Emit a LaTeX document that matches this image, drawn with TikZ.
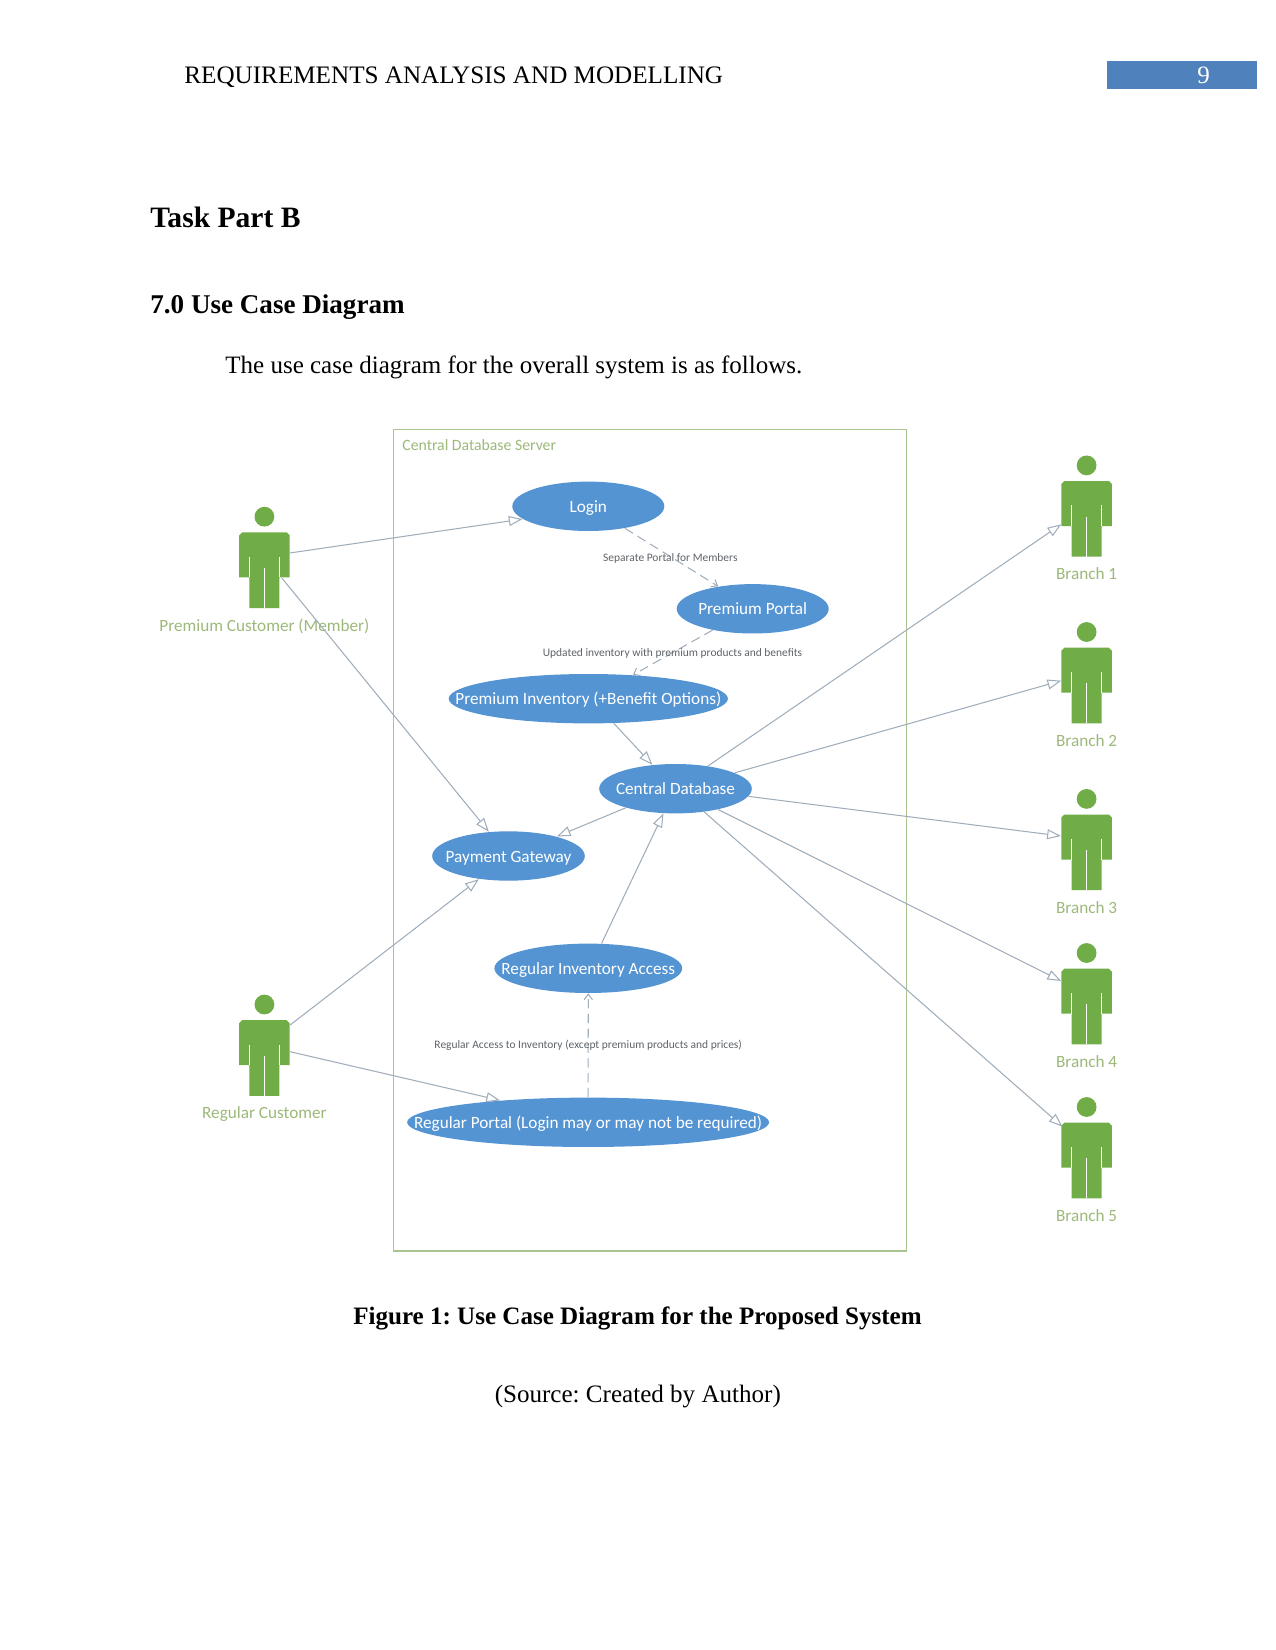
\documentclass[tikz,border=0pt]{standalone}
\usepackage{fontspec}
\setmainfont{Liberation Serif}
\newfontfamily\ucfont{Carlito}
\usetikzlibrary{arrows.meta,shapes.geometric}
\frenchspacing
\definecolor{ucblue}{HTML}{5494D3}
\definecolor{actorgreen}{HTML}{70AD47}
\definecolor{labelgreen}{HTML}{9DB97A}
\definecolor{framegreen}{HTML}{A9C48E}
\definecolor{linkgrey}{HTML}{A0ADBA}
\definecolor{notegrey}{HTML}{5F6368}
\definecolor{barblue}{HTML}{4F81BD}
\tikzset{
  x=0.48pt,y=-0.48pt,
  usecase/.style={ellipse,fill=ucblue,inner sep=0pt,minimum height=23.7pt,text=white,font=\ucfont\fontsize{8.25}{9}\selectfont},
  actorframe/.style={rectangle,inner sep=0pt,minimum width=24.3pt,minimum height=36.3pt},
  actorname/.style={text=labelgreen,font=\ucfont\fontsize{8.25}{9}\selectfont,inner sep=0pt,anchor=base},
  note/.style={text=notegrey,font=\ucfont\fontsize{5.5}{6}\selectfont,inner sep=0pt},
  assoc/.style={draw=linkgrey,line width=0.5pt,-{Triangle[open,fill=white,length=6.6pt,width=4.8pt]}},
  depend/.style={draw=linkgrey,line width=0.5pt,dash pattern=on 4.5pt off 2.6pt,-{Straight Barb[length=2.6pt,width=4pt]}},
  pagetext/.style={inner sep=0pt,anchor=base west,font=\fontsize{12}{14}\selectfont},
}
% use case: name, centre x, centre y, half width, text
\newcommand{\usecasenode}[5]{%
  \node[usecase,minimum width={#4*0.96pt}] (#1) at (#2,#3) {\makebox[0pt]{\raisebox{-2.9pt}[0pt][0pt]{#5}}};}
% stick figure with its name below: name, centre x, top of head, text
\newcommand{\actorfigure}[4]{%
  \node[actorframe] (#1) at (#2,#3+63.2) {};
  \begin{scope}[shift={(#1.center)}]
    \fill[actorgreen] (0,-53.5) circle[radius=9.9];
    \fill[actorgreen] (-22.3,-37.8) -- (22.3,-37.8) -- (25.3,-34.8) -- (25.3,7.2)
      -- (15,7.2) -- (15,37.8) -- (-15,37.8) -- (-15,7.2) -- (-25.3,7.2) -- (-25.3,-34.8) -- cycle;
    \draw[white,line width=0.45pt] (0,-2.3) -- (0,37.8) (-15,-13.5) -- (-15,7.2) (15,-13.5) -- (15,7.2);
  \end{scope}
  \node[actorname] (#1-name) at (#2,#3+124.1) {#4};}
\begin{document}
\begin{tikzpicture}
\useasboundingbox (0,0) rectangle (1275,1650);
\fill[white] (0,0) rectangle (1275,1650);

% running head
\node[pagetext,font=\fontsize{12.07}{14}\selectfont] (head) at (184,84) {REQUIREMENTS ANALYSIS AND MODELLING};
\node[fill=barblue,minimum width=72pt,minimum height=13.3pt,inner sep=0pt] (bar) at (1182,74.8) {};
\node[text=white,inner sep=0pt,font=\fontsize{12}{14}\selectfont] (pageno) at (1203.5,75.5) {9};

% headings and lead-in sentence
\node[pagetext,font=\bfseries\fontsize{14.2}{16}\selectfont] (task) at (150,228) {Task Part B};
\node[pagetext,font=\bfseries\fontsize{13}{15}\selectfont] (section) at (150,314) {7.0 Use Case Diagram};
\node[pagetext] (intro) at (225,373.5) {The use case diagram for the overall system is as follows.};

% system boundary
\draw[framegreen,line width=0.75pt] (393.3,429.3) rectangle (906.5,1251);
\node[text=labelgreen,font=\ucfont\fontsize{7.56}{9}\selectfont,anchor=west,inner sep=0pt] (server) at (402,445) {Central Database Server};

% use cases
\usecasenode{login}{588.3}{506.3}{76}{Login}
\usecasenode{portal}{752.7}{608.8}{76}{Premium Portal}
\usecasenode{inventory}{588.3}{698.7}{139.6}{Premium Inventory (+Benefit Options)}
\usecasenode{central}{675.5}{788.7}{76.3}{Central Database}
\usecasenode{payment}{508.5}{856}{76.3}{Payment Gateway}
\usecasenode{reginv}{588.3}{968.3}{93.9}{Regular Inventory Access}
\usecasenode{regportal}{588.1}{1122.3}{181}{Regular Portal (Login may or may not be required)}

% actors
\actorfigure{premium}{264.4}{507}{Premium Customer (Member)}
\actorfigure{regular}{264.4}{994.8}{Regular Customer}
\actorfigure{branchA}{1086.6}{455.7}{Branch 1}
\actorfigure{branchB}{1086.6}{622.3}{Branch 2}
\actorfigure{branchC}{1086.6}{789.2}{Branch 3}
\actorfigure{branchD}{1086.6}{943.3}{Branch 4}
\actorfigure{branchE}{1086.6}{1097.3}{Branch 5}

% customer associations
\draw[assoc] ([shift={(25.3,-17.2)}]premium.center) -- (login.191);
\draw[assoc] ([shift={(17.4,7.8)}]premium.center) -- (payment.129.5);
\draw[assoc] ([shift={(25.7,-33)}]regular.center) -- (payment.218.7);
\draw[assoc] ([shift={(25.7,-6.3)}]regular.center) -- (regportal.166.8);

% flows between use cases
\draw[depend] (login.-31) -- (portal.147.4);
\draw[depend] (portal.208.2) -- (inventory.28);
\draw[assoc] (inventory.-44.8) -- (central.134.3);
\draw[assoc] (central.201.6) -- (payment.22.4);
\draw[assoc] (reginv.62.3) -- (central.244.2);
\draw[depend] (regportal.north) -- (reginv.south);

% database links to branches
\draw[assoc] (central.35.4) -- ([shift={(-25.4,5.4)}]branchA.center);
\draw[assoc] (central.15.8) -- ([shift={(-25.4,-4.8)}]branchB.center);
\draw[assoc] (central.-6.9) -- ([shift={(-25.7,-16.4)}]branchC.center);
\draw[assoc] (central.-26.2) -- ([shift={(-25.4,-25.5)}]branchD.center);
\draw[assoc] (central.-39.8) -- ([shift={(-24,-33.8)}]branchE.center);

% notes on the flows
\node[note] (noteA) at (670.3,558) {Separate Portal for Members};
\node[note] (noteB) at (672.5,653) {Updated inventory with premium products and benefits};
\node[note] (noteC) at (588.2,1045.7) {Regular Access to Inventory (except premium products and prices)};

% caption
\node[inner sep=0pt,font=\bfseries\fontsize{12.03}{14}\selectfont,anchor=base] (caption) at (637.5,1324) {Figure 1: Use Case Diagram for the Proposed System};
\node[inner sep=0pt,font=\fontsize{12.03}{14}\selectfont,anchor=base] (source) at (637.8,1402) {(Source: Created by Author)};
\end{tikzpicture}
\end{document}
